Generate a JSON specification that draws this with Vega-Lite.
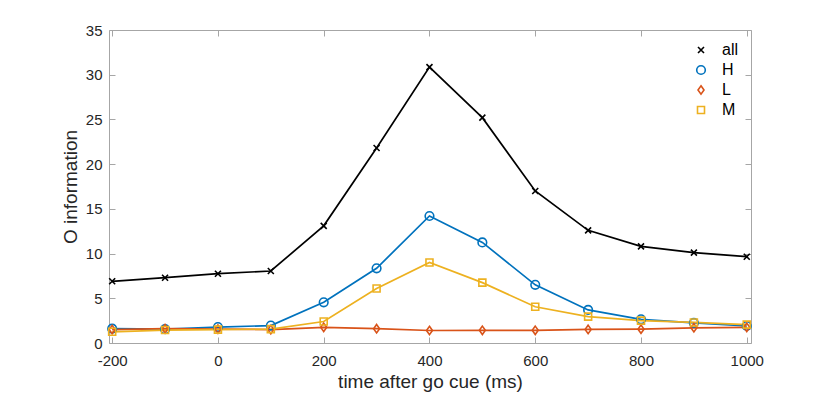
{
  "$schema": "https://vega.github.io/schema/vega-lite/v6.json",
  "width": 642,
  "height": 313,
  "autosize": "none",
  "padding": {"left": 109, "top": 30, "right": 79, "bottom": 52},
  "background": "white",
  "config": {
    "font": "Liberation Sans",
    "view": {"stroke": null},
    "axis": {
      "grid": false,
      "domainColor": "#a6a6a6",
      "domainWidth": 1,
      "tickColor": "#a6a6a6",
      "tickSize": -6,
      "tickWidth": 1,
      "labelColor": "#262626",
      "labelFontSize": 15,
      "labelFont": "Liberation Sans",
      "titleFont": "Liberation Sans",
      "titleColor": "#262626",
      "titleFontSize": 19,
      "titleFontWeight": "normal"
    }
  },
  "data": {
    "values": [
      {"t": -200, "s": "all", "g": "all", "v": 6.9}, {"t": -100, "s": "all", "g": "all", "v": 7.3}, {"t": 0, "s": "all", "g": "all", "v": 7.75}, {"t": 100, "s": "all", "g": "all", "v": 8.05},
      {"t": 200, "s": "all", "g": "all", "v": 13.1}, {"t": 300, "s": "all", "g": "all", "v": 21.8}, {"t": 400, "s": "all", "g": "all", "v": 30.85}, {"t": 500, "s": "all", "g": "all", "v": 25.2},
      {"t": 600, "s": "all", "g": "all", "v": 17.0}, {"t": 700, "s": "all", "g": "all", "v": 12.6}, {"t": 800, "s": "all", "g": "all", "v": 10.8}, {"t": 900, "s": "all", "g": "all", "v": 10.1}, {"t": 1000, "s": "all", "g": "all", "v": 9.65},
      {"t": -200, "s": "H", "g": "H", "v": 1.6}, {"t": -100, "s": "H", "g": "H", "v": 1.55}, {"t": 0, "s": "H", "g": "H", "v": 1.78}, {"t": 100, "s": "H", "g": "H", "v": 1.95},
      {"t": 200, "s": "H", "g": "H", "v": 4.55}, {"t": 300, "s": "H", "g": "H", "v": 8.35}, {"t": 400, "s": "H", "g": "H", "v": 14.2}, {"t": 500, "s": "H", "g": "H", "v": 11.25},
      {"t": 600, "s": "H", "g": "H", "v": 6.5}, {"t": 700, "s": "H", "g": "H", "v": 3.7}, {"t": 800, "s": "H", "g": "H", "v": 2.65}, {"t": 900, "s": "H", "g": "H", "v": 2.25}, {"t": 1000, "s": "H", "g": "H", "v": 1.9},
      {"t": -200, "s": "L", "g": "L", "v": 1.5}, {"t": -100, "s": "L", "g": "L", "v": 1.6}, {"t": 0, "s": "L", "g": "L", "v": 1.55}, {"t": 100, "s": "L", "g": "L", "v": 1.5},
      {"t": 200, "s": "L", "g": "L", "v": 1.75}, {"t": 300, "s": "L", "g": "L", "v": 1.6}, {"t": 400, "s": "L", "g": "L", "v": 1.4}, {"t": 500, "s": "L", "g": "L", "v": 1.42},
      {"t": 600, "s": "L", "g": "L", "v": 1.42}, {"t": 700, "s": "L", "g": "L", "v": 1.52}, {"t": 800, "s": "L", "g": "L", "v": 1.55}, {"t": 900, "s": "L", "g": "L", "v": 1.7}, {"t": 1000, "s": "L", "g": "L", "v": 1.75},
      {"t": -200, "s": "M", "g": "M", "v": 1.25}, {"t": -100, "s": "M", "g": "M", "v": 1.45}, {"t": 0, "s": "M", "g": "M", "v": 1.5}, {"t": 100, "s": "M", "g": "M", "v": 1.55},
      {"t": 200, "s": "M", "g": "M", "v": 2.4}, {"t": 300, "s": "M", "g": "M", "v": 6.1}, {"t": 400, "s": "M", "g": "M", "v": 9.0}, {"t": 500, "s": "M", "g": "M", "v": 6.75},
      {"t": 600, "s": "M", "g": "M", "v": 4.05}, {"t": 700, "s": "M", "g": "M", "v": 2.95}, {"t": 800, "s": "M", "g": "M", "v": 2.5}, {"t": 900, "s": "M", "g": "M", "v": 2.3}, {"t": 1000, "s": "M", "g": "M", "v": 2.05}
    ]
  },
  "layer": [
    {
      "mark": {"type": "line", "strokeWidth": 1.7},
      "encoding": {
        "x": {
          "field": "t", "type": "quantitative",
          "scale": {"domain": [-206, 1008], "nice": false, "zero": false},
          "axis": {"orient": "bottom", "values": [-200, 0, 200, 400, 600, 800, 1000], "labelExpr": "'' + datum.value", "title": "time after go cue (ms)", "labelPadding": 16, "titlePadding": 4}
        },
        "y": {
          "field": "v", "type": "quantitative",
          "scale": {"domain": [0, 35], "nice": false},
          "axis": {"orient": "left", "values": [0, 5, 10, 15, 20, 25, 30, 35], "title": "O information", "labelPadding": 13, "titlePadding": 5}
        },
        "color": {
          "field": "s", "type": "nominal",
          "scale": {"domain": ["all", "H", "L", "M"], "range": ["#000000", "#0072BD", "#D95319", "#EDB120"]},
          "legend": {
            "title": null,
            "orient": "top-right",
            "offset": 12,
            "padding": 0,
            "symbolSize": 16,
            "symbolStrokeWidth": 1.6,
            "symbolFillColor": "transparent",
            "labelFontSize": 16,
            "labelColor": "#000000",
            "labelOffset": 13,
            "rowPadding": 4
          }
        }
      }
    },
    {
      "mark": {"type": "point", "filled": false, "strokeWidth": 1.6, "opacity": 1, "size": 16},
      "encoding": {
        "x": {"field": "t", "type": "quantitative", "axis": {"orient": "top", "values": [-200, 0, 200, 400, 600, 800, 1000], "labels": false, "title": null}},
        "y": {"field": "v", "type": "quantitative", "axis": {"orient": "right", "values": [0, 5, 10, 15, 20, 25, 30, 35], "labels": false, "title": null}},
        "color": {"field": "s", "type": "nominal", "legend": null},
        "shape": {
          "field": "g", "type": "nominal", "legend": null,
          "scale": {"domain": ["all", "H", "L", "M"], "range": [
            "M-1.5,-1.5L1.5,1.5M-1.5,1.5L1.5,-1.5",
            "M2.15,0A2.15,2.15 0 1,1 -2.15,0A2.15,2.15 0 1,1 2.15,0Z",
            "M0,-2.1L1.5,0L0,2.1L-1.5,0Z",
            "M-1.75,-1.75H1.75V1.75H-1.75Z"
          ]}
        }
      }
    }
  ]
}
